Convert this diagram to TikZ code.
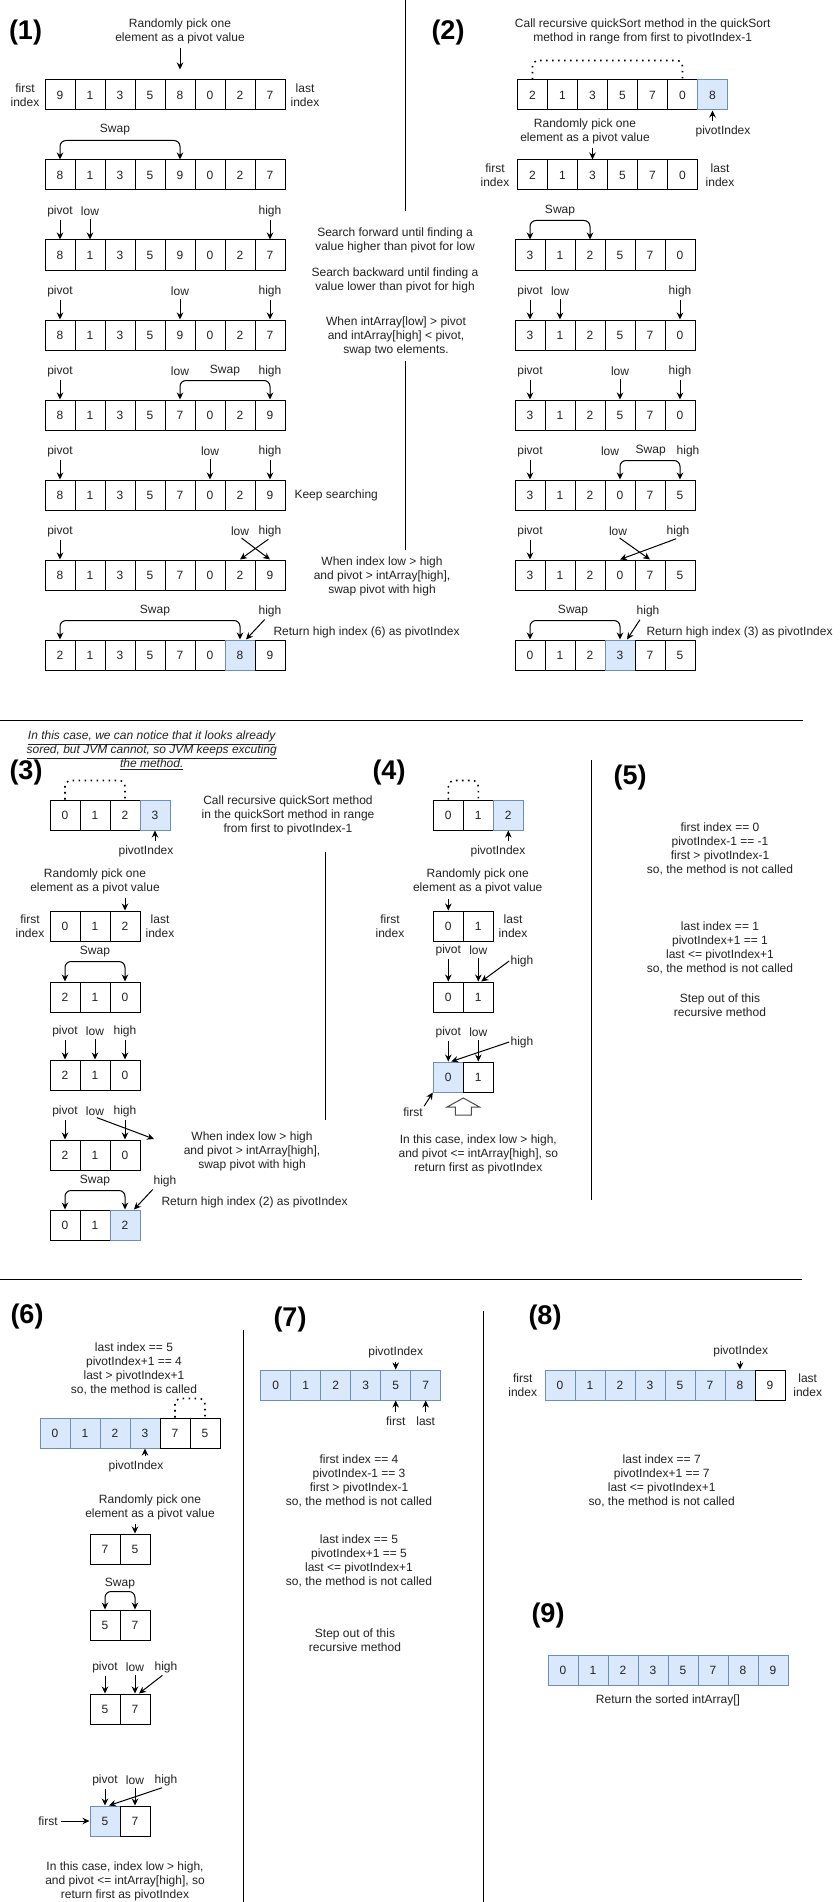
\documentclass[tikz,border=0pt]{standalone}
\usepackage{fontspec}
\setmainfont{Liberation Sans}
\usetikzlibrary{arrows.meta}
\definecolor{bfill}{HTML}{DAE8FC}
\definecolor{bdraw}{HTML}{6C8EBF}
\definecolor{txt}{HTML}{222222}
\newcommand{\cellrow}[4]{%
  \foreach \v/\s [count=\i from 0] in {#4} {%
    \node[cell,\s] (#1-\i) at ({#2+15+30*\i},{#3+15}) {\v};%
  }%
}
\newcommand{\labl}[4]{\node[lbl] (#1) at (#2,#3) {#4};}
\newcommand{\arrdn}[2]{\draw[arr,shorten <=2pt] (#1.south) -- (#2.north);}
\begin{document}
\begin{tikzpicture}[x=1pt,y=-1pt,line width=1pt,
  every node/.style={text=txt},
  cell/.style={draw=black,minimum size=30pt,inner sep=0pt,font=\fontsize{12}{14}\selectfont,line width=1pt},
  wc/.style={fill=white},
  bc/.style={fill=bfill,draw=bdraw},
  lbl/.style={inner sep=1pt,align=center,font=\fontsize{12}{14}\selectfont},
  ttl/.style={inner sep=0pt,font=\bfseries\fontsize{27}{30}\selectfont,text=black},
  arr/.style={-{Stealth[length=7pt,width=6.5pt]},line width=1pt,draw=black},
  swp/.style={{Stealth[length=7pt,width=6.5pt]}-{Stealth[length=7pt,width=6.5pt]},line width=1pt,rounded corners=6pt},
  dts/.style={line width=1.6pt,dash pattern=on 1.6pt off 4.4pt,rounded corners=6pt},
  sep/.style={line width=1pt,draw=black}]
\fill[white] (0,0) rectangle (839,1902);
\path[use as bounding box] (0,0) rectangle (839,1902);

% ================= (1) =================
\node[ttl] (T1) at (25.5,33) {(1)};
\labl{A0}{180}{31}{Randomly pick one\\element as a pivot value}
\cellrow{ra}{45}{80}{9/wc,1/wc,3/wc,5/wc,8/wc,0/wc,2/wc,7/wc}
\draw[arr,shorten <=3pt,shorten >=10pt] (ra-4.north |- A0.south) -- (ra-4.north);
\labl{A1}{25}{95}{first\\index}
\labl{A2}{305}{95}{last\\index}
\labl{A3}{115}{130}{Swap}
\cellrow{rb}{45}{160}{8/wc,1/wc,3/wc,5/wc,9/wc,0/wc,2/wc,7/wc}
\draw[swp] (rb-0.north) -- ++(0,-19) -| (rb-4.north);
\labl{c1}{60}{211}{pivot}\labl{c2}{90}{211}{low}\labl{c3}{270}{211}{high}
\cellrow{rc}{45}{240}{8/wc,1/wc,3/wc,5/wc,9/wc,0/wc,2/wc,7/wc}
\arrdn{c1}{rc-0}\arrdn{c2}{rc-1}\arrdn{c3}{rc-7}
\labl{d1}{60}{291}{pivot}\labl{d2}{180}{291}{low}\labl{d3}{270}{291}{high}
\cellrow{rd}{45}{320}{8/wc,1/wc,3/wc,5/wc,9/wc,0/wc,2/wc,7/wc}
\arrdn{d1}{rd-0}\arrdn{d2}{rd-4}\arrdn{d3}{rd-7}
\labl{e1}{60}{371}{pivot}\labl{e2}{180}{371}{low}\labl{e4}{225}{371}{Swap}\labl{e3}{270}{371}{high}
\cellrow{re}{45}{400}{8/wc,1/wc,3/wc,5/wc,7/wc,0/wc,2/wc,9/wc}
\arrdn{e1}{re-0}
\draw[swp] (re-4.north) -- ++(0,-19) -| (re-7.north);
\labl{f1}{60}{451}{pivot}\labl{f2}{210}{451}{low}\labl{f3}{270}{451}{high}
\cellrow{rf}{45}{480}{8/wc,1/wc,3/wc,5/wc,7/wc,0/wc,2/wc,9/wc}
\arrdn{f1}{rf-0}\arrdn{f2}{rf-5}\arrdn{f3}{rf-7}
\node[lbl,anchor=west] (f4) at (293,495) {Keep searching};
\labl{g1}{60}{531}{pivot}\labl{g2}{240}{531}{low}\labl{g3}{270}{531}{high}
\cellrow{rg}{45}{560}{8/wc,1/wc,3/wc,5/wc,7/wc,0/wc,2/wc,9/wc}
\arrdn{g1}{rg-0}
\draw[arr,shorten <=2pt] (g2.south) -- (rg-7.north);
\draw[arr,shorten <=2pt] (g3.south) -- (rg-6.north);
\labl{h1}{155}{611}{Swap}\labl{h2}{270}{611}{high}
\cellrow{rh}{45}{640}{2/wc,1/wc,3/wc,5/wc,7/wc,0/wc,8/bc,9/wc}
\draw[swp] (rh-0.north) -- ++(0,-19) -| (rh-6.north);
\draw[arr,shorten <=2pt] ([xshift=-4pt]h2.south) -- ([xshift=6pt]rh-6.north);
\node[lbl,anchor=west] (h3) at (272,632) {Return high index (6) as pivotIndex};

% middle texts
\labl{m1}{395}{240.5}{Search forward until finding a\\value higher than pivot for low}
\labl{m2}{395}{280.5}{Search backward until finding a\\value lower than pivot for high}
\labl{m3}{396}{336}{When intArray[low] > pivot\\and intArray[high] < pivot,\\swap two elements.}
\labl{m4}{382}{576}{When index low > high\\and pivot > intArray[high],\\swap pivot with high}
\coordinate (v1a) at (405.5,0);\coordinate (v1b) at (405.5,211);
\coordinate (v1c) at (405.5,361);\coordinate (v1d) at (405.5,550);
\draw[sep] (v1a) -- (v1b);
\draw[sep] (v1c) -- (v1d);

% ================= (2) =================
\node[ttl] (T2) at (448,33) {(2)};
\labl{B0}{642.7}{31}{Call recursive quickSort method in the quickSort\\method in range from first to pivotIndex-1}
\cellrow{sa}{517.5}{80}{2/wc,1/wc,3/wc,5/wc,7/wc,0/wc,8/bc}
\draw[dts] (sa-0.north) -- ++(0,-19) -| (sa-5.north);
\labl{B1}{723}{131}{pivotIndex}
\draw[arr,shorten <=3pt] (sa-6.south |- B1.north) -- (sa-6.south);
\labl{B2}{585}{131}{Randomly pick one\\element as a pivot value}
\cellrow{sb}{517.5}{160}{2/wc,1/wc,3/wc,5/wc,7/wc,0/wc}
\draw[arr,shorten <=3pt] (sb-2.north |- B2.south) -- (sb-2.north);
\labl{B3}{495}{175}{first\\index}
\labl{B4}{720}{175}{last\\index}
\labl{B5}{560}{211}{Swap}
\cellrow{sc}{515}{240}{3/wc,1/wc,2/wc,5/wc,7/wc,0/wc}
\draw[swp] (sc-0.north) -- ++(0,-19) -| (sc-2.north);
\labl{k1}{530}{291}{pivot}\labl{k2}{560}{291}{low}\labl{k3}{680}{291}{high}
\cellrow{sd}{515}{320}{3/wc,1/wc,2/wc,5/wc,7/wc,0/wc}
\arrdn{k1}{sd-0}\arrdn{k2}{sd-1}\arrdn{k3}{sd-5}
\labl{l1}{530}{371}{pivot}\labl{l2}{620}{371}{low}\labl{l3}{680}{371}{high}
\cellrow{se}{515}{400}{3/wc,1/wc,2/wc,5/wc,7/wc,0/wc}
\arrdn{l1}{se-0}\arrdn{l2}{se-3}\arrdn{l3}{se-5}
\labl{n1}{530}{451}{pivot}\labl{n2}{610}{451}{low}\labl{n4}{650.7}{451}{Swap}\labl{n3}{688}{451}{high}
\cellrow{sf}{515}{480}{3/wc,1/wc,2/wc,0/wc,7/wc,5/wc}
\arrdn{n1}{sf-0}
\draw[swp] (sf-3.north) -- ++(0,-19) -| (sf-5.north);
\labl{o1}{530}{531}{pivot}\labl{o2}{618}{531}{low}\labl{o3}{678}{531}{high}
\cellrow{sg}{515}{560}{3/wc,1/wc,2/wc,0/wc,7/wc,5/wc}
\arrdn{o1}{sg-0}
\draw[arr,shorten <=2pt] (o2.south) -- (sg-4.north);
\draw[arr,shorten <=2pt] (o3.south) -- (sg-3.north);
\labl{q1}{573}{611}{Swap}\labl{q2}{648}{611}{high}
\cellrow{sh}{515}{640}{0/wc,1/wc,2/wc,3/bc,7/wc,5/wc}
\draw[swp] (sh-0.north) -- ++(0,-19) -| (sh-3.north);
\draw[arr,shorten <=2pt] ([xshift=-7pt]q2.south) -- ([xshift=7pt]sh-3.north);
\node[lbl,anchor=west] (q3) at (645,632) {Return high index (3) as pivotIndex};

% separator
\coordinate (h1a) at (0,720.5);\coordinate (h1b) at (803,720.5);
\draw[sep] (h1a) -- (h1b);

% ================= (3) =================
\node[lbl,font=\itshape\fontsize{12}{14}\selectfont] (I3) at (151.7,750.7)
  {\underline{In this case, we can notice that it looks already}\\\underline{sored, but JVM cannot, so JVM keeps excuting}\\\underline{the method.}};
\node[ttl] (T3) at (26,773) {(3)};
\cellrow{ta}{50}{800}{0/wc,1/wc,2/wc,3/bc}
\draw[dts] (ta-0.north) -- ++(0,-19) -| (ta-2.north);
\labl{C1}{146}{851}{pivotIndex}
\draw[arr,shorten <=3pt] (ta-3.south |- C1.north) -- (ta-3.south);
\labl{C2}{95}{881.3}{Randomly pick one\\element as a pivot value}
\cellrow{tb}{50}{911}{0/wc,1/wc,2/wc}
\draw[arr,shorten <=3pt] (tb-2.north |- C2.south) -- (tb-2.north);
\labl{C3}{30}{926}{first\\index}
\labl{C4}{160}{926}{last\\index}
\labl{C5}{95}{952}{Swap}
\cellrow{tc}{50}{982}{2/wc,1/wc,0/wc}
\draw[swp] (tc-0.north) -- ++(0,-20) -| (tc-2.north);
\labl{u1}{65}{1031}{pivot}\labl{u2}{95}{1031}{low}\labl{u3}{125}{1031}{high}
\cellrow{td}{50}{1060}{2/wc,1/wc,0/wc}
\arrdn{u1}{td-0}\arrdn{u2}{td-1}\arrdn{u3}{td-2}
\labl{w1}{65}{1111}{pivot}\labl{w2}{95}{1111}{low}\labl{w3}{125}{1111}{high}
\cellrow{te}{50}{1140}{2/wc,1/wc,0/wc}
\arrdn{w1}{te-0}\arrdn{w3}{te-2}
\coordinate (wx) at (154,1139);
\draw[arr,shorten <=2pt] (w2.south) -- (wx);
\labl{C6}{252}{1151}{When index low > high\\and pivot > intArray[high],\\swap pivot with high}
\labl{x1}{95}{1181}{Swap}\labl{x2}{165}{1181}{high}
\cellrow{tf}{50}{1210}{0/wc,1/wc,2/bc}
\draw[swp] (tf-0.north) -- ++(0,-19) -| (tf-2.north);
\draw[arr,shorten <=2pt] ([xshift=-11pt]x2.south) -- ([xshift=9pt]tf-2.north);
\node[lbl,anchor=west] (x3) at (160,1202) {Return high index (2) as pivotIndex};
\labl{C7}{288}{815.7}{Call recursive quickSort method\\in the quickSort method in range\\from first to pivotIndex-1}
\coordinate (v2a) at (325,852);\coordinate (v2b) at (325,1120);
\draw[sep] (v2a) -- (v2b);

% ================= (4) =================
\node[ttl] (T4) at (389,773) {(4)};
\cellrow{ua}{433.3}{800}{0/wc,1/wc,2/bc}
\draw[dts] (ua-0.north) -- ++(0,-19) -| (ua-1.north);
\labl{D1}{498}{851}{pivotIndex}
\draw[arr,shorten <=3pt] (ua-2.south |- D1.north) -- (ua-2.south);
\labl{D2}{477.7}{881.7}{Randomly pick one\\element as a pivot value}
\cellrow{ub}{433.3}{911}{0/wc,1/wc}
\draw[arr,shorten <=3pt] (ub-0.north |- D2.south) -- (ub-0.north);
\labl{D3}{390}{926}{first\\index}
\labl{D4}{513}{926}{last\\index}
\labl{y1}{448.3}{950}{pivot}\labl{y2}{478.3}{950}{low}\labl{y3}{522}{961}{high}
\cellrow{uc}{433.3}{982}{0/wc,1/wc}
\arrdn{y1}{uc-0}\arrdn{y2}{uc-1}
\draw[arr] (y3.west) -- ([xshift=3pt]uc-1.north);
\labl{z1}{448.3}{1032}{pivot}\labl{z2}{478.3}{1032}{low}\labl{z3}{522}{1042}{high}
\cellrow{ud}{433.3}{1062}{0/bc,1/wc}
\arrdn{z1}{ud-0}\arrdn{z2}{ud-1}
\draw[arr] (z3.west) -- ([xshift=3pt]ud-0.north);
\labl{D5}{413}{1112}{first}
\draw[arr] (D5.north east) -- (ud-0.south west);
\draw[black!70,line width=1pt,fill=white] (463.3,1098) -- (479.5,1107) -- (471.3,1107) -- (471.3,1115) -- (455.3,1115) -- (455.3,1107) -- (447.1,1107) -- cycle;
\labl{D6}{478.3}{1154}{In this case, index low > high,\\and pivot <= intArray[high], so\\return first as pivotIndex}
\coordinate (v3a) at (591,760);\coordinate (v3b) at (591,1200);
\draw[sep] (v3a) -- (v3b);

% ================= (5) =================
\node[ttl] (T5) at (630,778) {(5)};
\labl{E1}{720}{849}{first index == 0\\pivotIndex-1 == -1\\first > pivotIndex-1\\so, the method is not called}
\labl{E2}{720}{948}{last index == 1\\pivotIndex+1 == 1\\last <= pivotIndex+1\\so, the method is not called}
\labl{E3}{720}{1005}{Step out of this\\recursive method}

% separator
\coordinate (h2a) at (0,1279);\coordinate (h2b) at (802,1279);
\draw[sep] (h2a) -- (h2b);

% ================= (6) =================
\node[ttl] (T6) at (27,1317) {(6)};
\labl{G1}{134}{1369}{last index == 5\\pivotIndex+1 == 4\\last > pivotIndex+1\\so, the method is called}
\cellrow{va}{40}{1418}{0/bc,1/bc,2/bc,3/bc,7/wc,5/wc}
\draw[dts] (va-4.north) -- ++(0,-19) -| (va-5.north);
\labl{G2}{136}{1466}{pivotIndex}
\draw[arr,shorten <=3pt] (va-3.south |- G2.north) -- (va-3.south);
\labl{G3}{150}{1507}{Randomly pick one\\element as a pivot value}
\cellrow{vb}{90}{1534}{7/wc,5/wc}
\draw[arr,shorten <=3pt] (vb-1.north |- G3.south) -- (vb-1.north);
\labl{G4}{120}{1584}{Swap}
\cellrow{vc}{90}{1610}{5/wc,7/wc}
\draw[swp] (vc-0.north) -- ++(0,-18) -| (vc-1.north);
\labl{p1}{105}{1667}{pivot}\labl{p2}{135}{1667}{low}\labl{p3}{166}{1667}{high}
\cellrow{vd}{90}{1694}{5/wc,7/wc}
\arrdn{p1}{vd-0}\arrdn{p2}{vd-1}
\draw[arr,shorten <=2pt] ([xshift=-2pt]p3.south) -- ([xshift=4pt]vd-1.north);
\labl{r1}{105}{1780}{pivot}\labl{r2}{135}{1780}{low}\labl{r3}{166}{1780}{high}
\cellrow{ve}{90}{1806}{5/bc,7/wc}
\arrdn{r1}{ve-0}\arrdn{r2}{ve-1}
\draw[arr,shorten <=2pt] ([xshift=-2pt]r3.south) -- ([xshift=4pt]ve-0.north);
\labl{G5}{48}{1821}{first}
\draw[arr,shorten <=2pt] (G5.east) -- (ve-0.west);
\labl{G6}{125}{1881}{In this case, index low > high,\\and pivot <= intArray[high], so\\return first as pivotIndex}
\coordinate (v4a) at (243.5,1330);\coordinate (v4b) at (243.5,1902);
\draw[sep] (v4a) -- (v4b);

% ================= (7) =================
\node[ttl] (T7) at (290,1320) {(7)};
\labl{H1}{395.7}{1352}{pivotIndex}
\cellrow{wa}{260.7}{1370}{0/bc,1/bc,2/bc,3/bc,5/bc,7/bc}
\draw[arr,shorten <=3pt] (wa-4.north |- H1.south) -- (wa-4.north);
\labl{H2}{395.7}{1421}{first}\labl{H3}{425.7}{1421}{last}
\draw[arr,shorten <=3pt] (H2.north) -- (wa-4.south);
\draw[arr,shorten <=3pt] (H3.north) -- (wa-5.south);
\labl{H4}{359}{1481}{first index == 4\\pivotIndex-1 == 3\\first > pivotIndex-1\\so, the method is not called}
\labl{H5}{359}{1561}{last index == 5\\pivotIndex+1 == 5\\last <= pivotIndex+1\\so, the method is not called}
\labl{H6}{355}{1640.3}{Step out of this\\recursive method}
\coordinate (v5a) at (483.3,1311);\coordinate (v5b) at (483.3,1902);
\draw[sep] (v5a) -- (v5b);

% ================= (8) =================
\node[ttl] (T8) at (545,1318) {(8)};
\labl{K1}{740.7}{1351}{pivotIndex}
\cellrow{xa}{545}{1370}{0/bc,1/bc,2/bc,3/bc,5/bc,7/bc,8/bc,9/wc}
\draw[arr,shorten <=3pt] (xa-6.north |- K1.south) -- (xa-6.north);
\labl{K2}{522.7}{1385}{first\\index}
\labl{K3}{807.7}{1385}{last\\index}
\labl{K4}{661.7}{1481}{last index == 7\\pivotIndex+1 == 7\\last <= pivotIndex+1\\so, the method is not called}

% ================= (9) =================
\node[ttl] (T9) at (548,1615) {(9)};
\cellrow{ya}{548}{1655}{0/bc,1/bc,2/bc,3/bc,5/bc,7/bc,8/bc,9/bc}
\labl{L1}{668}{1700}{Return the sorted intArray[]}
\end{tikzpicture}
\end{document}
